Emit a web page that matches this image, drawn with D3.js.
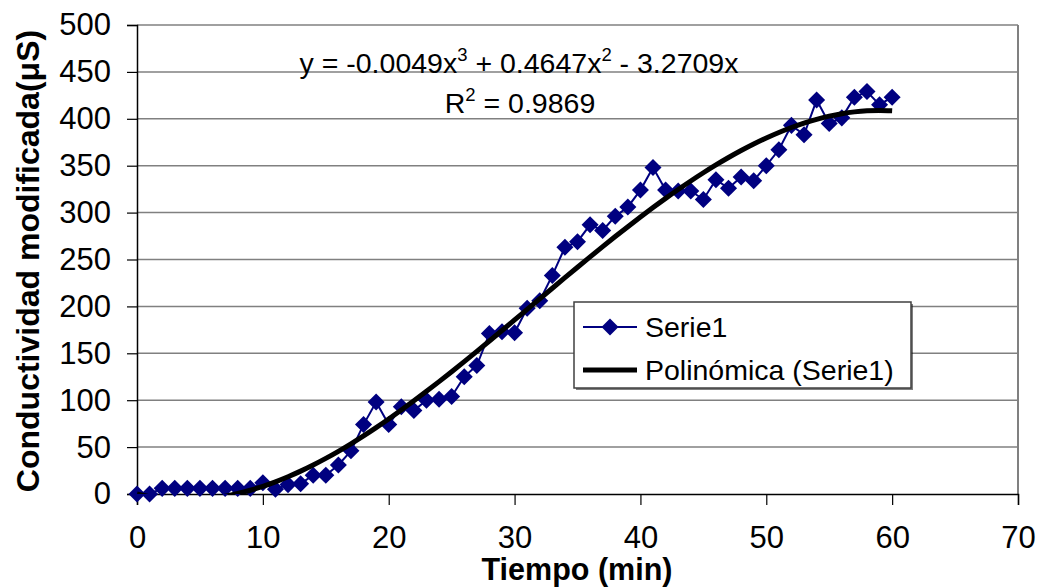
<!DOCTYPE html>
<html>
<head>
<meta charset="utf-8">
<script src="https://cdn.jsdelivr.net/npm/d3@7"></script>
<style>
  body { margin: 0; background: #fff; }
  text { font-family: "Liberation Sans", Arial, sans-serif; }
</style>
</head>
<body>
<svg id="chart" width="1037" height="588"></svg>
<script>
// Tiempo (min)
var tiempo = [0,1,2,3,4,5,6,7,8,9,10,11,12,13,14,15,16,17,18,19,20,
  21,22,23,24,25,26,27,28,29,30,31,32,33,34,35,36,37,38,39,40,
  41,42,43,44,45,46,47,48,49,50,51,52,53,54,55,56,57,58,59,60];
// Conductividad modificada (uS) - Serie1
var serie1 = [0,0,6,6,6,6,6,6,6,6,12,5,10,11,20,20,31,46,74,98,74,
  93,89,100,101,104,125,137,171,173,172,198,206,233,263,269,287,281,296,306,324,
  348,324,323,323,314,335,326,338,334,350,367,393,383,420,395,401,423,429,415,423];

var xTicks = [0,10,20,30,40,50,60,70];
var yTicks = [0,50,100,150,200,250,300,350,400,450,500];

var margin = {top: 25, right: 19, bottom: 94, left: 137},
    width = 1037 - margin.left - margin.right,
    height = 588 - margin.top - margin.bottom;

var svg = d3.select("#chart");
var g = svg.append("g").attr("transform", "translate(" + margin.left + "," + margin.top + ")");

var x = d3.scaleLinear().domain([0, 70]).range([0, width]);
var y = d3.scaleLinear().domain([0, 500]).range([height, 0]);

// ajuste polinomico de orden 3 sin ordenada (como Excel)
function polyFit(xs, ys) {
  var pw = [3, 2, 1];
  var A = [[0,0,0],[0,0,0],[0,0,0]], B = [0,0,0];
  for (var k = 0; k < xs.length; k++) {
    for (var i = 0; i < 3; i++) {
      B[i] += Math.pow(xs[k], pw[i]) * ys[k];
      for (var j = 0; j < 3; j++) A[i][j] += Math.pow(xs[k], pw[i] + pw[j]);
    }
  }
  for (var i = 0; i < 3; i++) {
    for (var r = i + 1; r < 3; r++) {
      var f = A[r][i] / A[i][i];
      for (var c = i; c < 3; c++) A[r][c] -= f * A[i][c];
      B[r] -= f * B[i];
    }
  }
  var sol = [0,0,0];
  for (var i = 2; i >= 0; i--) {
    var s = B[i];
    for (var c = i + 1; c < 3; c++) s -= A[i][c] * sol[c];
    sol[i] = s / A[i][i];
  }
  return sol;
}
var coef = polyFit(tiempo, serie1);
var trend = tiempo.map(function (t) {
  return [t, coef[0]*t*t*t + coef[1]*t*t + coef[2]*t];
});

// lineas de la cuadricula
g.selectAll(".grid").data(yTicks.slice(1)).enter().append("line")
  .attr("x1", 0).attr("x2", width)
  .attr("y1", function (d) { return y(d); }).attr("y2", function (d) { return y(d); })
  .attr("stroke", "#808080").attr("stroke-width", 1.5);
g.append("line").attr("x1", width).attr("x2", width).attr("y1", 0).attr("y2", height)
  .attr("stroke", "#808080").attr("stroke-width", 2);

// ejes
var yAxis = g.append("g").call(d3.axisLeft(y).tickValues(yTicks).tickSize(10).tickPadding(16));
var xAxis = g.append("g").attr("transform", "translate(0," + height + ")")
  .call(d3.axisBottom(x).tickValues(xTicks).tickSize(11).tickPadding(21));
[yAxis, xAxis].forEach(function (a) {
  a.select(".domain").attr("stroke", "#000").attr("stroke-width", 1.5);
  a.selectAll(".tick line").attr("stroke", "#000").attr("stroke-width", 1.2);
  a.selectAll("text").attr("font-family", "Liberation Sans, Arial, sans-serif")
    .attr("font-size", "31px").attr("fill", "#000");
});

// clip del area de trazado
svg.append("clipPath").attr("id", "clip").append("rect")
  .attr("x", 0).attr("y", 0).attr("width", width).attr("height", height);

// serie de datos
var line = d3.line().x(function (d) { return x(d[0]); }).y(function (d) { return y(d[1]); });
var pts = tiempo.map(function (t, i) { return [t, serie1[i]]; });

g.append("path").datum(pts).attr("d", line)
  .attr("fill", "none").attr("stroke", "#000080").attr("stroke-width", 2);

var diamond = { draw: function (ctx, size) {
  var r = Math.sqrt(size) / 2;
  ctx.moveTo(0, -r); ctx.lineTo(r, 0); ctx.lineTo(0, r); ctx.lineTo(-r, 0); ctx.closePath();
}};
g.selectAll(".pt").data(pts).enter().append("path")
  .attr("d", d3.symbol().type(diamond).size(290))
  .attr("transform", function (d) { return "translate(" + x(d[0]) + "," + y(d[1]) + ")"; })
  .attr("fill", "#000080");

// linea de tendencia
g.append("path").datum(trend).attr("d", d3.line().curve(d3.curveMonotoneX)
    .x(function (d) { return x(d[0]); }).y(function (d) { return y(d[1]); }))
  .attr("clip-path", "url(#clip)")
  .attr("fill", "none").attr("stroke", "#000").attr("stroke-width", 5);

// ecuacion y R2
var eq = svg.append("text").attr("x", 519).attr("y", 73).attr("text-anchor", "middle")
  .attr("font-size", "28.5px").attr("fill", "#000");
eq.append("tspan").text("y = -0.0049x");
eq.append("tspan").attr("dy", -12).attr("font-size", "18.5px").text("3");
eq.append("tspan").attr("dy", 12).text(" + 0.4647x");
eq.append("tspan").attr("dy", -12).attr("font-size", "18.5px").text("2");
eq.append("tspan").attr("dy", 12).text(" - 3.2709x");

var r2 = svg.append("text").attr("x", 520).attr("y", 113).attr("text-anchor", "middle")
  .attr("font-size", "28.5px").attr("fill", "#000");
r2.append("tspan").text("R");
r2.append("tspan").attr("dy", -12).attr("font-size", "18.5px").text("2");
r2.append("tspan").attr("dy", 12).text(" = 0.9869");

// leyenda
var leg = svg.append("g").attr("transform", "translate(574,302)");
leg.append("rect").attr("x", 2).attr("y", 2).attr("width", 337).attr("height", 86).attr("fill", "#000").attr("opacity", 0.5);
leg.append("rect").attr("width", 337).attr("height", 86)
  .attr("fill", "#fff").attr("stroke", "#404040").attr("stroke-width", 1.5);
leg.append("line").attr("x1", 9).attr("x2", 63).attr("y1", 25).attr("y2", 25)
  .attr("stroke", "#000080").attr("stroke-width", 2);
leg.append("path").attr("d", d3.symbol().type(diamond).size(290))
  .attr("transform", "translate(36,25)").attr("fill", "#000080");
leg.append("line").attr("x1", 9).attr("x2", 63).attr("y1", 68).attr("y2", 68)
  .attr("stroke", "#000").attr("stroke-width", 5);
leg.append("text").attr("x", 71).attr("y", 35).attr("font-size", "28.5px").text("Serie1");
leg.append("text").attr("x", 71).attr("y", 78).attr("font-size", "28.5px").text("Polinómica (Serie1)");

// titulos de ejes
svg.append("text").attr("x", 577).attr("y", 580).attr("text-anchor", "middle")
  .attr("font-size", "30.5px").attr("font-weight", "bold").text("Tiempo (min)");
svg.append("text").attr("transform", "translate(39,261) rotate(-90)").attr("text-anchor", "middle")
  .attr("font-size", "32px").attr("font-weight", "bold").text("Conductividad modificada(μS)");
</script>
</body>
</html>
